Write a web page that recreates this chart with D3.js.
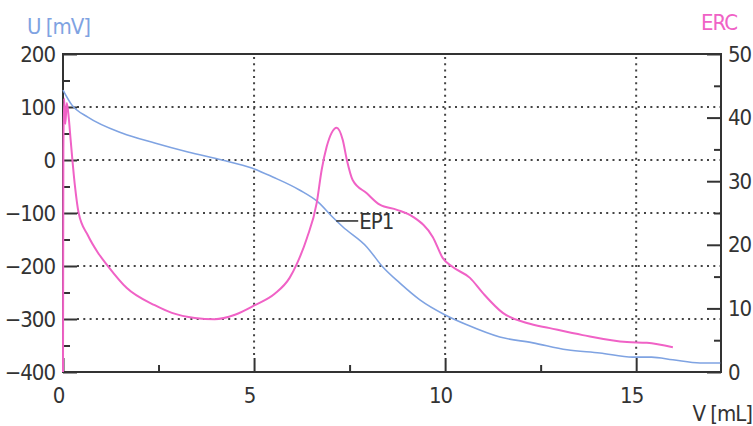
<!DOCTYPE html>
<html>
<head>
<meta charset="utf-8">
<script src="https://cdn.jsdelivr.net/npm/d3@7/dist/d3.min.js"></script>
<style>
  html, body { margin: 0; padding: 0; background: #fff; }
  svg { display: block; }
  .lbl { font-family: "Liberation Sans Narrow", "DejaVu Sans Condensed", "Arial Narrow", sans-serif; letter-spacing: -1px; }
</style>
</head>
<body>
<svg id="chart" width="753" height="426"></svg>
<script>
// Titration curve: potential U [mV] and ERC versus added volume V [mL]
const volumeU = [0, 0.23, 0.65, 1.54, 2.40, 3.27, 4.16, 4.94, 5.49, 6.20, 6.67, 7.06, 7.32, 7.95, 8.37, 8.81, 9.34, 9.99, 10.57, 11.43, 12.30, 13.19, 14.05, 14.91, 15.40, 15.96, 16.67, 17.20];
const potentialU = [132, 104, 81, 51, 32, 15, 0, -15, -32, -57, -79, -108, -126, -164, -202, -232, -264, -292, -311, -334, -345, -358, -364, -372, -372, -377, -383, -383];

const volumeERC = [0, 0.01, 0.03, 0.06, 0.10, 0.15, 0.20, 0.31, 0.41, 0.65, 0.91, 1.17, 1.67, 2.40, 2.85, 3.45, 3.97, 4.50, 5.02, 5.54, 5.93, 6.12, 6.38, 6.64, 6.77, 6.90, 7.03, 7.16, 7.32, 7.43, 7.58, 7.95, 8.29, 8.74, 9.16, 9.68, 9.94, 10.20, 10.65, 10.99, 11.51, 12.14, 12.74, 13.60, 14.76, 15.28, 15.96];
const valueERC = [0, 35, 43, 39, 42.3, 40, 36.5, 29.4, 25, 21.5, 18.8, 16.7, 13.2, 10.5, 9.3, 8.5, 8.3, 9.0, 10.5, 12.3, 14.8, 17.0, 21.0, 26.6, 31.8, 35.4, 37.6, 38.4, 36.5, 33.3, 30.2, 28.1, 26.3, 25.5, 24.4, 21.2, 17.9, 16.5, 14.8, 12.4, 9.3, 7.7, 6.9, 5.8, 4.7, 4.6, 3.9];

const xMajorTicks = [0, 5, 10, 15];
const xMinorTicks = [2.5, 7.5, 12.5];
const uMajorTicks = [-400, -300, -200, -100, 0, 100, 200];
const uMinorTicks = [-350, -250, -150, -50, 50, 150];
const ercMajorTicks = [0, 10, 20, 30, 40, 50];
const ercMinorTicks = [5, 15, 25, 35, 45];

const endpointLabel = "EP1";
const endpointV = 7.15;
const endpointU = -115;

const blue = "#7fa3e2";
const pink = "#f062c6";
const ink = "#333";

const svg = d3.select("#chart");
const plotL = 63, plotR = 721, plotT = 54, plotB = 372;

const x = d3.scaleLinear().domain([0, 17.22]).range([plotL, plotR]);
const yU = d3.scaleLinear().domain([-400, 200]).range([plotB, plotT]);
const yE = d3.scaleLinear().domain([0, 50]).range([plotB, plotT]);

// dotted grid
const grid = svg.append("g")
  .attr("stroke", "#444").attr("stroke-width", 2).attr("stroke-dasharray", "2,4.3");
grid.selectAll("line.h").data(uMajorTicks.filter(d => d > -400 && d < 200)).join("line")
  .attr("x1", plotL + 14).attr("x2", plotR)
  .attr("y1", d => yU(d)).attr("y2", d => yU(d));
grid.selectAll("line.v").data(xMajorTicks.filter(d => d > 0)).join("line")
  .attr("x1", d => x(d)).attr("x2", d => x(d))
  .attr("y1", plotT + 3).attr("y2", plotB - 14);

function styleAxis(g) {
  g.select(".domain").remove();
  g.selectAll(".tick line").attr("stroke", ink).attr("stroke-width", 2);
  g.selectAll(".tick text").attr("class", "lbl").attr("fill", ink).attr("font-size", 22);
}

// left axis (U)
svg.append("g").attr("transform", `translate(${plotL},0)`)
  .call(d3.axisLeft(yU).tickValues(uMajorTicks).tickSize(-14).tickPadding(8).tickFormat(d3.format("d")))
  .call(styleAxis)
  .selectAll(".tick text").text(d => d < 0 ? "\u2212" + Math.abs(d) : d);
svg.append("g").attr("transform", `translate(${plotL},0)`)
  .call(d3.axisLeft(yU).tickValues(uMinorTicks).tickSize(-7).tickFormat(""))
  .call(styleAxis);

// right axis (ERC)
svg.append("g").attr("transform", `translate(${plotR},0)`)
  .call(d3.axisRight(yE).tickValues(ercMajorTicks).tickSize(-14).tickPadding(7).tickFormat(d3.format("d")))
  .call(styleAxis);
svg.append("g").attr("transform", `translate(${plotR},0)`)
  .call(d3.axisRight(yE).tickValues(ercMinorTicks).tickSize(-7).tickFormat(""))
  .call(styleAxis);

// bottom axis (V)
svg.append("g").attr("transform", `translate(0,${plotB})`)
  .call(d3.axisBottom(x).tickValues(xMajorTicks).tickSize(-14).tickPadding(15).tickFormat(d3.format("d")))
  .call(styleAxis)
  .selectAll(".tick text").attr("dx", -5);
svg.append("g").attr("transform", `translate(0,${plotB})`)
  .call(d3.axisBottom(x).tickValues(xMinorTicks).tickSize(-7).tickFormat(""))
  .call(styleAxis);

// frame
svg.append("rect")
  .attr("x", plotL).attr("y", plotT).attr("width", plotR - plotL).attr("height", plotB - plotT)
  .attr("fill", "none").attr("stroke", ink).attr("stroke-width", 2);

// curves
const uLine = d3.line().x((d, i) => x(volumeU[i])).y(d => yU(d)).curve(d3.curveMonotoneX);
svg.append("path").datum(potentialU)
  .attr("d", uLine).attr("fill", "none").attr("stroke", blue).attr("stroke-width", 1.6);

const eLine = d3.line().x((d, i) => x(volumeERC[i])).y(d => yE(d)).curve(d3.curveMonotoneX);
svg.append("path").datum(valueERC)
  .attr("d", eLine).attr("fill", "none").attr("stroke", pink).attr("stroke-width", 2);

// endpoint marker
const ex = x(endpointV), ey = yU(endpointU);
svg.append("line").attr("x1", ex).attr("x2", ex + 22).attr("y1", ey).attr("y2", ey)
  .attr("stroke", ink).attr("stroke-width", 1.6);
svg.append("text").attr("class", "lbl").attr("x", ex + 23).attr("y", ey + 8)
  .attr("font-size", 22).attr("fill", ink).text(endpointLabel);

// axis titles
svg.append("text").attr("class", "lbl").attr("x", 27).attr("y", 34)
  .attr("font-size", 22).attr("fill", blue).text("U [mV]");
svg.append("text").attr("class", "lbl").attr("x", 737).attr("y", 30).attr("text-anchor", "end")
  .attr("font-size", 22).attr("fill", pink).text("ERC");
svg.append("text").attr("class", "lbl").attr("x", 752).attr("y", 421).attr("text-anchor", "end")
  .attr("font-size", 22).attr("fill", ink).text("V [mL]");
</script>
</body>
</html>
